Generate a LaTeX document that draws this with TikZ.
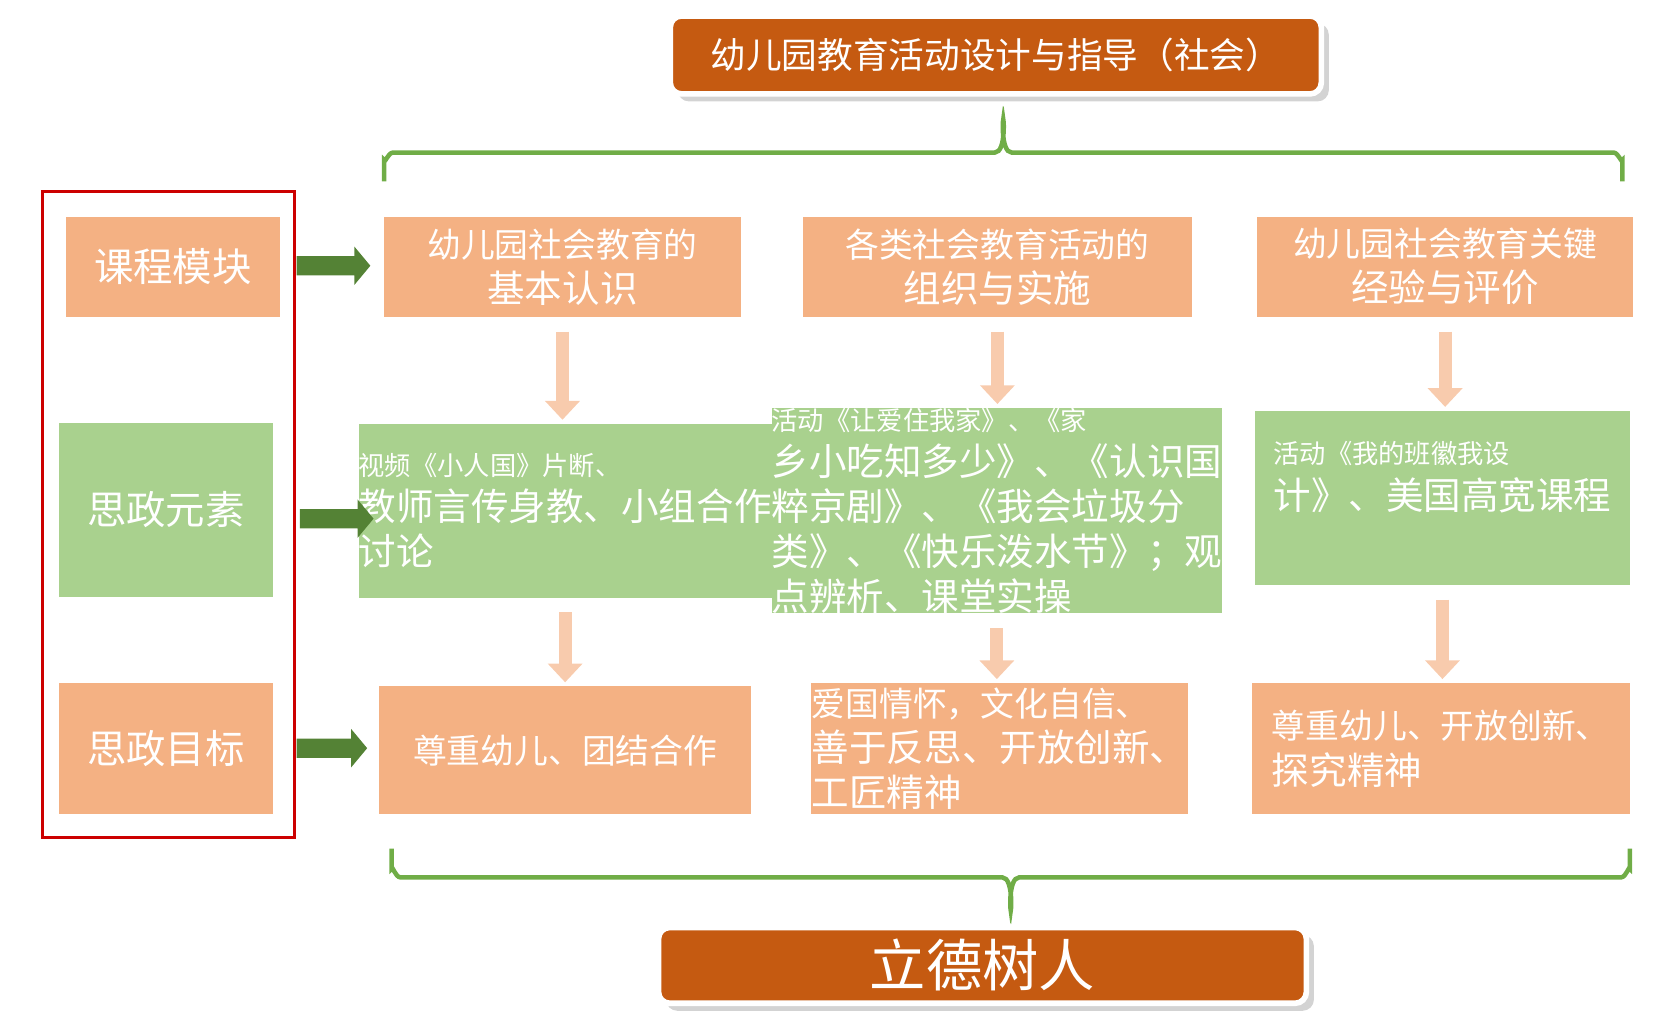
\documentclass[tikz,border=0pt]{standalone}
\usepackage{fontspec}
\newfontfamily\cjk{Noto Sans CJK SC}
\usetikzlibrary{shadows, arrows.meta}
\definecolor{titlebg}{HTML}{C55A11}
\definecolor{peach}{HTML}{F4B183}
\definecolor{leaf}{HTML}{A9D18E}
\definecolor{brace}{HTML}{70AD47}
\definecolor{darkleaf}{HTML}{548235}
\definecolor{pink}{HTML}{F8CBAD}
\tikzset{
    box/.style = {inner sep = 0pt, text = white, font = \cjk},
    banner/.style = {box, fill = titlebg, draw = white, line width = 1.5pt, rounded corners = 3pt, drop shadow = {shadow xshift = 2pt, shadow yshift = -2pt, opacity = 0.35}},
    down/.style = {-{Triangle[length = 5pt, width = 9pt]}, draw = pink, line width = 3.5pt},
    bracket/.style = {draw = brace, line width = 1.2pt}
}
\newcommand{\boxat}[6]{% name, x1, y1, x2, y2, style
    \node[#6, minimum width = {(#4-#2)*0.01cm}, minimum height = {(#5-#3)*0.01cm}]
        (#1) at ({(#2+#4)/2}, {(#3+#5)/2})}
\begin{document}
\begin{tikzpicture}[x = 0.01cm, y = -0.01cm]
    \useasboundingbox (0, 0) rectangle (1560, 952);
    % banners
    \boxat{title}{628}{15}{1238}{88}{banner} {\fontsize{9.5pt}{11pt}\selectfont 幼儿园教育活动设计与指导（社会）};
    \boxat{goal}{617}{869}{1224}{940}{banner} {\fontsize{15pt}{17pt}\selectfont 立德树人};
    % braces
    \draw[bracket] (360, 170) -- (360, 150) to[out = 270, in = 180] (368, 143) -- (932, 143)
        to[out = 0, in = 90] (940, 115) to[out = 90, in = 180] (948, 143) -- (1512, 143)
        to[out = 0, in = 270] (1520, 150) -- (1520, 170);
    \draw[bracket] (367, 795) -- (367, 814) to[out = 90, in = 180] (375, 822) -- (939, 822)
        to[out = 0, in = 270] (947, 850) to[out = 270, in = 180] (955, 822) -- (1519, 822)
        to[out = 0, in = 90] (1527, 814) -- (1527, 795);
    % row labels
    \draw[red!80!black, line width = 0.8pt] (40, 179) rectangle (276, 785);
    \boxat{modA}{62}{203}{262}{297}{box, fill = peach} {\fontsize{10.5pt}{12pt}\selectfont 课程模块};
    \boxat{eleA}{55}{396}{256}{559}{box, fill = leaf} {\fontsize{10.5pt}{12pt}\selectfont 思政元素};
    \boxat{aimA}{55}{640}{256}{763}{box, fill = peach} {\fontsize{10.5pt}{12pt}\selectfont 思政目标};
    % modules
    \boxat{modB}{360}{203}{694}{297}{box, fill = peach, align = center} {\fontsize{9pt}{10.5pt}\selectfont 幼儿园社会教育的\\基本认识};
    \boxat{modC}{752}{203}{1117}{297}{box, fill = peach, align = center} {\fontsize{9pt}{10.5pt}\selectfont 各类社会教育活动的\\组织与实施};
    \boxat{modD}{1178}{203}{1530}{297}{box, fill = peach, align = center} {\fontsize{9pt}{10.5pt}\selectfont 幼儿园社会教育关键\\经验与评价};
    % elements
    \boxat{eleB}{355}{397}{704}{560}{box, fill = leaf, align = left} {\fontsize{7pt}{8.7pt}\selectfont 视频《小人国》片断、\\教师言传身教、小组合作\\讨论};
    \boxat{eleC}{755}{397}{1113}{560}{box, fill = leaf, align = left} {\fontsize{7pt}{8.7pt}\selectfont 活动《让爱住我家》、《家\\乡小吃知多少》、《认识国\\粹京剧》、《我会垃圾分\\类》、《快乐泼水节》；观\\点辨析、课堂实操};
    \boxat{eleD}{1176}{385}{1527}{548}{box, fill = leaf, align = left} {\fontsize{7pt}{8.7pt}\selectfont 活动《我的班徽我设\\计》、美国高宽课程\\~};
    % aims
    \boxat{aimB}{355}{643}{704}{763}{box, fill = peach} {\fontsize{9pt}{11pt}\selectfont 尊重幼儿、团结合作\hspace{3.2em}};
    \boxat{aimC}{760}{640}{1113}{763}{box, fill = peach, align = left} {\fontsize{9pt}{11pt}\selectfont 爱国情怀，文化自信、\\善于反思、开放创新、\\工匠精神\hspace{6em}};
    \boxat{aimD}{1173}{640}{1527}{763}{box, fill = peach, align = left} {\fontsize{9pt}{11pt}\selectfont 尊重幼儿、开放创新、\\探究精神\hspace{6em}};
    % green block arrows
    \foreach \y/\xa/\xb in {249/278/347, 486/281/350, 701/278/344} {
        \fill[darkleaf] (\xa, \y-9) -- (\xb-15, \y-9) -- (\xb-15, \y-18) -- (\xb, \y)
            -- (\xb-15, \y+18) -- (\xb-15, \y+9) -- (\xa, \y+9) -- cycle;
    }
    % pink arrows
    \foreach \a/\b in {modB/eleB, modC/eleC, modD/eleD, eleB/aimB, eleC/aimC, eleD/aimD}
        \draw[down] ([yshift = -0.13cm] \a.south) -- ([yshift = 0.03cm] \a.south |- \b.north);
\end{tikzpicture}
\end{document}
